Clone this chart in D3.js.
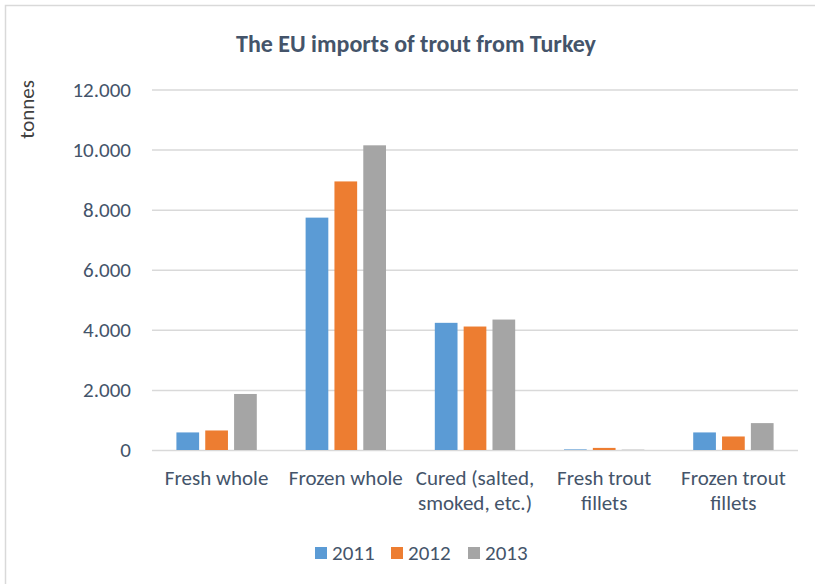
<!DOCTYPE html>
<html>
<head>
<meta charset="utf-8">
<script src="https://cdn.jsdelivr.net/npm/d3@7"></script>
<style>
  html, body { margin: 0; padding: 0; background: #fff; }
  svg { display: block; }
  text { font-family: Carlito, Lato, "Open Sans", sans-serif; }
</style>
</head>
<body>
<svg id="chart" width="815" height="584"></svg>
<script>
const title = "The EU imports of trout from Turkey";
const yAxisTitle = "tonnes";
const categories = [
  ["Fresh whole"],
  ["Frozen whole"],
  ["Cured (salted,", "smoked, etc.)"],
  ["Fresh trout", "fillets"],
  ["Frozen trout", "fillets"]
];
const years = ["2011", "2012", "2013"];
const values2011 = [585, 7735, 4233, 20, 585];
const values2012 = [650, 8940, 4110, 70, 450];
const values2013 = [1865, 10142, 4342, 10, 895];
const yTicks = [0, 2000, 4000, 6000, 8000, 10000, 12000];
const yTickLabels = ["0", "2.000", "4.000", "6.000", "8.000", "10.000", "12.000"];
const colors = ["#5B9BD5", "#ED7D31", "#A5A5A5"];

const seriesValues = [values2011, values2012, values2013];
const catKeys = categories.map(c => c.join(" "));
const data = catKeys.map((k, i) => ({
  key: k,
  lines: categories[i],
  vals: years.map((y, j) => ({ year: y, value: seriesValues[j][i] }))
}));

const FS = "21px";
const svg = d3.select("#chart");

// chart border (Excel chart area)
svg.append("rect")
  .attr("x", 5.5).attr("y", 5.5)
  .attr("width", 830).attr("height", 600)
  .attr("fill", "none").attr("stroke", "#D9D9D9").attr("stroke-width", 1.5);

const plot = { left: 152, right: 798, top: 89.5, bottom: 450 };

const x0 = d3.scaleBand().domain(catKeys).range([plot.left, plot.right]).padding(0);
const band = x0.bandwidth();
const w = band / (3 + 2 * 0.27 + 2.15);
const groupW = 3 * w + 2 * 0.27 * w;
const x1 = d3.scaleBand().domain(years)
  .range([(band - groupW) / 2, (band + groupW) / 2])
  .paddingInner(0.27 / 1.27).paddingOuter(0);

const y = d3.scaleLinear().domain([0, 12000]).range([plot.bottom, plot.top]);

// gridlines + tick labels
const yAxis = d3.axisLeft(y).tickValues(yTicks)
  .tickSize(-(plot.right - plot.left))
  .tickPadding(21)
  .tickFormat((d, i) => yTickLabels[i]);

const gy = svg.append("g")
  .attr("transform", `translate(${plot.left},0)`)
  .call(yAxis);
gy.select(".domain").remove();
gy.selectAll(".tick line").attr("stroke", "#D9D9D9").attr("stroke-width", 1.5);
gy.selectAll(".tick text")
  .attr("fill", "#44546A")
  .style("font-size", FS);

// bars
const groups = svg.append("g").selectAll("g")
  .data(data).join("g")
  .attr("transform", d => `translate(${x0(d.key)},0)`);

groups.selectAll("rect")
  .data(d => d.vals).join("rect")
  .attr("x", d => x1(d.year))
  .attr("width", x1.bandwidth())
  .attr("y", d => y(d.value))
  .attr("height", d => y(0) - y(d.value))
  .attr("fill", (d, i) => colors[i]);

// x axis category labels
const xAxis = d3.axisBottom(x0).tickSize(0).tickPadding(0).tickFormat("");
const gx = svg.append("g")
  .attr("transform", `translate(0,${plot.bottom})`)
  .call(xAxis);
gx.select(".domain").remove();
gx.selectAll(".tick").each(function(k, i) {
  const t = d3.select(this).append("text")
    .attr("fill", "#44546A")
    .attr("text-anchor", "middle")
    .style("font-size", FS);
  data[i].lines.forEach((ln, li) => {
    t.append("tspan").attr("x", 0).attr("y", 35 + li * 25).text(ln);
  });
});

// title
svg.append("text")
  .attr("x", 416).attr("y", 52)
  .attr("text-anchor", "middle")
  .attr("fill", "#44546A")
  .style("font-size", "24px")
  .style("font-weight", "bold")
  .text(title);

// y axis title
svg.append("text")
  .attr("transform", "translate(34,80) rotate(-90)")
  .attr("text-anchor", "end")
  .attr("fill", "#404040")
  .style("font-size", FS)
  .text(yAxisTitle);

// legend
const legend = svg.append("g").attr("transform", "translate(0,553)");
const legendX = [315, 391, 468];
years.forEach((yr, i) => {
  const g = legend.append("g").attr("transform", `translate(${legendX[i]},0)`);
  g.append("rect").attr("x", 0).attr("y", -6).attr("width", 12).attr("height", 12).attr("fill", colors[i]);
  g.append("text").attr("x", 17).attr("y", 7)
    .attr("fill", "#44546A")
    .style("font-size", FS)
    .text(yr);
});
</script>
</body>
</html>
